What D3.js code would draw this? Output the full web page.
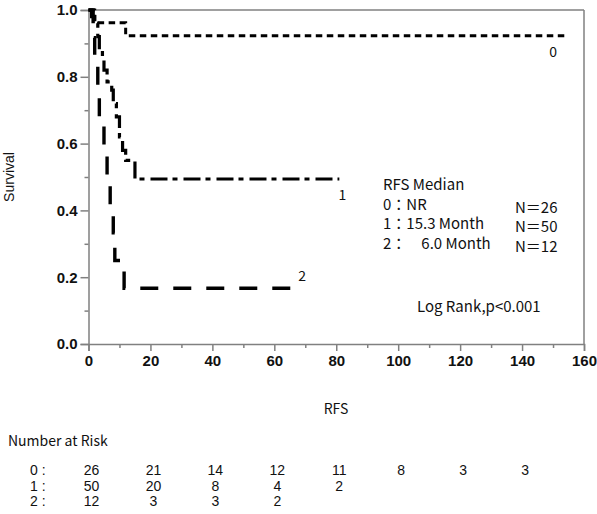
<!DOCTYPE html>
<html><head><meta charset="utf-8">
<script src="https://cdn.jsdelivr.net/npm/d3@7"></script>
<style>
body{margin:0;background:#fff;}
svg text{font-family:"Noto Sans CJK JP","Noto Sans",sans-serif;fill:#111;}
</style></head>
<body><svg id="c" width="597" height="514"></svg>
<script>
// Kaplan-Meier step data: [time (months), survival]
const curve0 = [[0,1.0],[2,0.9615],[12,0.923],[155,0.923]];
const curve1 = [[0,1.0],[1,0.98],[2,0.96],[3,0.92],[3.5,0.88],[4.5,0.86],[5,0.82],[6,0.785],[7.5,0.76],[8,0.72],[9,0.68],[10,0.62],[11,0.58],[12,0.55],[15,0.494],[81,0.494]];
const curve2 = [[0,1.0],[1.5,0.917],[2,0.833],[3,0.75],[3.5,0.667],[5,0.583],[6,0.5],[7,0.417],[8,0.333],[8.5,0.25],[11.5,0.167],[67,0.167]];
const curveNames = ["0","1","2"];
const curveLabelPos = [[150,0.86],[82,0.43],[69,0.19]];
const xTicks = [0,20,40,60,80,100,120,140,160];
const yTicks = [0.0,0.2,0.4,0.6,0.8,1.0];
const riskTimes = [0,20,40,60,80,100,120,140];
const risk0 = [26,21,14,12,11,8,3,3];
const risk1 = [50,20,8,4,2];
const risk2 = [12,3,3,2];
const legendLines = ["RFS Median","0：NR","1：15.3 Month","2：　6.0 Month"];
const legendN = ["N＝26","N＝50","N＝12"];

const svg = d3.select("#c");
const x = d3.scaleLinear().domain([0,160]).range([88.5,584]);
const y = d3.scaleLinear().domain([0,1]).range([344,10]);
const axisColor = "#808080";
const latin = "'Liberation Sans', Arial, sans-serif";

// frame top & right
svg.append("line").attr("x1",x(0)).attr("x2",x(160)).attr("y1",y(1)).attr("y2",y(1)).attr("stroke",axisColor).attr("stroke-width",1.5);
svg.append("line").attr("x1",x(160)).attr("x2",x(160)).attr("y1",y(1)).attr("y2",y(0)).attr("stroke",axisColor).attr("stroke-width",1.5);

// minor ticks
const gx = svg.append("g").attr("transform",`translate(0,${y(0)})`);
gx.call(d3.axisBottom(x).tickValues(d3.range(10,160,20)).tickSize(4).tickFormat(""));
gx.call(g=>g.select(".domain").remove());
const gx2 = svg.append("g").attr("transform",`translate(0,${y(0)})`)
  .call(d3.axisBottom(x).tickValues(xTicks).tickSize(7).tickPadding(4).tickFormat(d3.format("d")));
const gy0 = svg.append("g").attr("transform",`translate(${x(0)},0)`)
  .call(d3.axisLeft(y).tickValues([0.1,0.3,0.5,0.7,0.9]).tickSize(4).tickFormat(""));
gy0.select(".domain").remove();
const gy = svg.append("g").attr("transform",`translate(${x(0)},0)`)
  .call(d3.axisLeft(y).tickValues(yTicks).tickSize(8).tickPadding(3).tickFormat(d3.format(".1f")));
svg.selectAll(".domain").attr("stroke",axisColor).attr("stroke-width",1.5);
svg.selectAll(".tick line").attr("stroke",axisColor).attr("stroke-width",1.5);
[gx2,gy].forEach(g=>g.selectAll("text").style("font-size","15px").style("font-weight","700").style("font-family",latin).style("fill","#111"));

// curves
const line = d3.line().x(d=>x(d[0])).y(d=>y(d[1])).curve(d3.curveStepAfter);
const styles = [
  {dash:"6.5,4.5", w:3},
  {dash:"17,5,5,6", w:3.2},
  {dash:"18,15", w:3.4}
];
[curve0,curve1,curve2].forEach((c,i)=>{
  svg.append("path").datum(c).attr("d",line).attr("fill","none")
    .attr("stroke","#000").attr("stroke-width",styles[i].w)
    .attr("stroke-dasharray",styles[i].dash);
});
curveNames.forEach((n,i)=>{
  svg.append("text").attr("x",x(curveLabelPos[i][0])).attr("y",y(curveLabelPos[i][1]))
    .attr("text-anchor","middle").attr("font-size",14).text(n);
});

// axis titles
svg.append("text").attr("transform",`translate(14,${(y(0)+y(1))/2}) rotate(-90)`)
  .attr("text-anchor","middle").style("font-size","14px").style("font-family",latin).text("Survival");
svg.append("text").attr("x",336).attr("y",414).attr("text-anchor","middle").attr("font-size",14).text("RFS");

// legend
legendLines.forEach((t,i)=>{
  svg.append("text").attr("x",383).attr("y",190+i*19.5).attr("font-size",15).attr("xml:space","preserve").text(t);
});
legendN.forEach((t,i)=>{
  svg.append("text").attr("x",515).attr("y",213+i*19.3).attr("font-size",15).text(t);
});
svg.append("text").attr("x",417).attr("y",312).attr("font-size",15).text("Log Rank,p<0.001");

// number at risk
svg.append("text").attr("x",8).attr("y",446).attr("font-size",14).text("Number at Risk");
[risk0,risk1,risk2].forEach((r,i)=>{
  const yy = 475+i*15.6;
  svg.append("text").attr("x",30).attr("y",yy).style("font-size","14px").style("font-family",latin).attr("xml:space","preserve").text(i+" :");
  r.forEach((v,j)=>{
    svg.append("text").attr("x",x(riskTimes[j])+3).attr("y",yy).attr("text-anchor","middle").style("font-size","14px").style("font-family",latin).text(v);
  });
});
</script></body></html>
